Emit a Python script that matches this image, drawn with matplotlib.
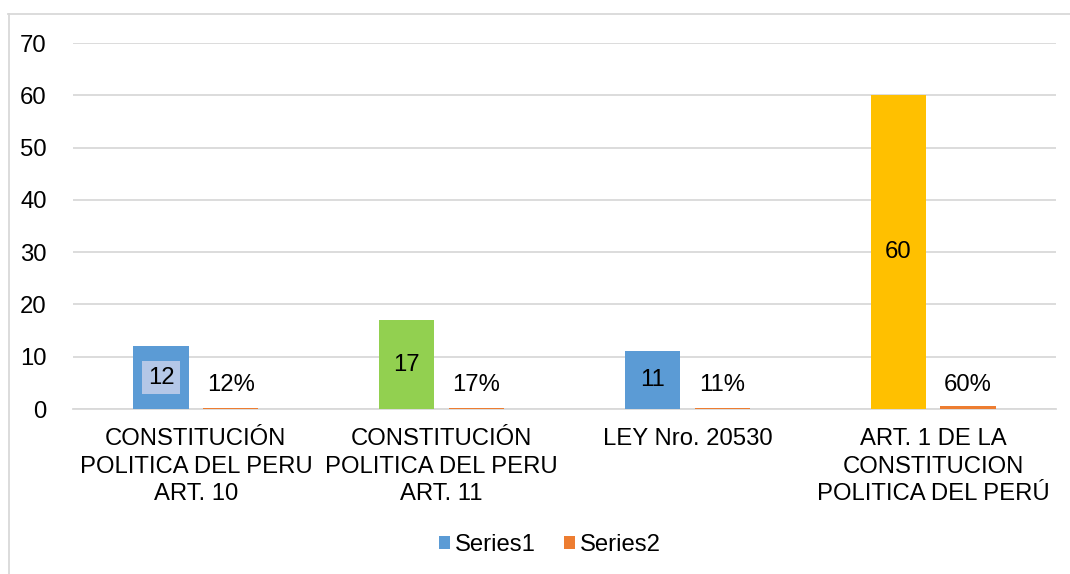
import matplotlib
matplotlib.use("Agg")
import matplotlib.pyplot as plt
from matplotlib.patches import Patch
from matplotlib.lines import Line2D
import numpy as np

plt.rcParams['font.family'] = ['Liberation Sans', 'DejaVu Sans']

categories = ["CONSTITUCIÓN\nPOLITICA DEL PERU\nART. 10",
              "CONSTITUCIÓN\nPOLITICA DEL PERU\nART. 11",
              "LEY Nro. 20530",
              "ART. 1 DE LA\nCONSTITUCION\nPOLITICA DEL PERÚ"]
series1 = [12, 17, 11, 60]
series2 = [0.12, 0.17, 0.11, 0.60]
series1_colors = ["#5B9BD5", "#92D050", "#5B9BD5", "#FFC000"]
series2_color = "#ED7D31"
yticks = [0, 10, 20, 30, 40, 50, 60, 70]

W, H = 1070, 574
fig = plt.figure(figsize=(W / 100, H / 100), dpi=100)
ax = fig.add_axes([73 / W, 1 - 409 / H, (1056 - 73) / W, (409 - 43) / H])

x = np.arange(len(categories))
bw = 0.224
off = 0.142
fs = 17.2

b1 = ax.bar(x - off, series1, bw, color=series1_colors, zorder=3)
b2 = ax.bar(x + off, series2, bw, color=series2_color, zorder=3)

for i, v in enumerate(series1):
    kw = {}
    if i == 0:
        kw['bbox'] = dict(boxstyle='square,pad=0.22', facecolor='#B4C7E7', edgecolor='none')
    ax.text(x[i] - off, v / 2, f"{v}", ha='center', va='center', fontsize=fs,
            color='#000000', zorder=4, **kw)
for i, v in enumerate(series2):
    ax.text(x[i] + off, 4.5, f"{round(v * 100)}%", ha='center', va='center',
            fontsize=fs, color='#000000', zorder=4)

ax.set_xlim(-0.5, len(categories) - 0.5)
ax.set_ylim(0, 70)
ax.set_yticks(yticks)
ax.set_yticklabels([str(t) for t in yticks], fontsize=fs)
ax.set_xticks(x)
ax.set_xticklabels(categories, fontsize=fs, linespacing=1.32)
ax.tick_params(axis='both', length=0, colors='#000000')
ax.tick_params(axis='y', pad=19)
ax.tick_params(axis='x', pad=14)
ax.grid(axis='y', color='#D9D9D9', linewidth=1.3, zorder=0)
for s in ['top', 'right', 'left']:
    ax.spines[s].set_visible(False)
ax.spines['bottom'].set_color('#D9D9D9')
ax.spines['bottom'].set_linewidth(1.3)

handles = [Patch(facecolor="#5B9BD5", label="Series1"),
           Patch(facecolor=series2_color, label="Series2")]
fig.legend(handles=handles, loc='center', bbox_to_anchor=(550 / W, 1 - 545 / H),
           ncol=2, frameon=False, fontsize=fs, handlelength=0.45, handleheight=0.45,
           handletextpad=0.2, columnspacing=1.2)

# outer chart border (top and left visible)
fig.add_artist(Line2D([8 / W, 1.0], [1 - 13.5 / H, 1 - 13.5 / H], color='#D9D9D9', linewidth=1.3))
fig.add_artist(Line2D([8.5 / W, 8.5 / W], [0, 1 - 13.5 / H], color='#D9D9D9', linewidth=1.3))

fig.savefig("out.png", dpi=100)
